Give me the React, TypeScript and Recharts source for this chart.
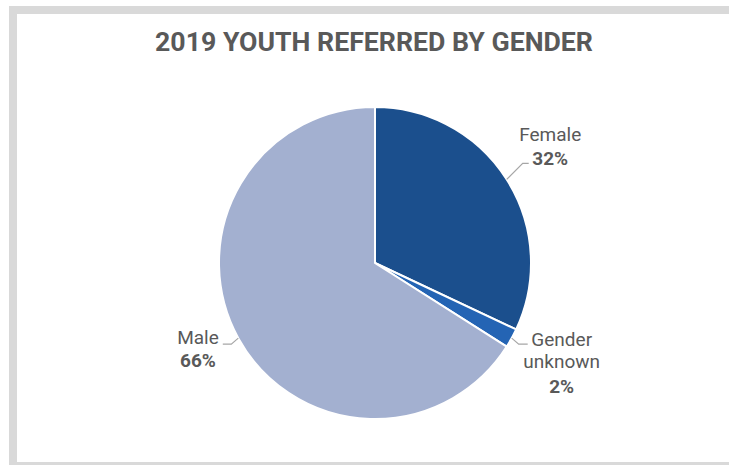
import { PieChart, Pie, Cell } from "recharts";

const genders = ["Female", "Gender unknown", "Male"];
const shares = [32, 2, 66];
const shareLabels = ["32%", "2%", "66%"];

const SLICE_COLORS = ["#1b4f8d", "#2464b4", "#a3b0d0"];
const TEXT = "#595959";
const LEADER = "#a6a6a6";

// leader line elbow / text placement, per slice
const LABEL_LAYOUT = [
  { elbow: [16, -16], run: 6, tx: 21.5, ty: [-22.3, 1.3], lines: ["Female"] },
  { elbow: [7, 6], run: 9, tx: 34, ty: [1.7, 24.3, 48.7], lines: ["Gender", "unknown"] },
  { elbow: [-7, 6], run: -8.5, tx: -24.8, ty: [0.3, 22.7], lines: ["Male"] },
];

const data = genders.map((g, i) => ({ name: g, value: shares[i], pct: shareLabels[i] }));

const RAD = Math.PI / 180;

function renderLabel(props: any) {
  const { cx, cy, midAngle, outerRadius, index } = props;
  const lay = LABEL_LAYOUT[index];
  const sx = cx + outerRadius * Math.cos(-midAngle * RAD);
  const sy = cy + outerRadius * Math.sin(-midAngle * RAD);
  const mx = sx + lay.elbow[0];
  const my = sy + lay.elbow[1];
  const ex = mx + lay.run;
  const ey = my;
  const tx = ex + lay.tx;
  return (
    <g>
      <polyline points={`${sx},${sy} ${mx},${my} ${ex},${ey}`} fill="none" stroke={LEADER} strokeWidth={1.2} />
      {lay.lines.map((l, k) => (
        <text key={k} x={tx} y={ey + lay.ty[k]} textAnchor="middle" fill={TEXT} fontSize={19} fontFamily="Roboto">
          {l}
        </text>
      ))}
      <text x={tx} y={ey + lay.ty[lay.lines.length]} textAnchor="middle" fill={TEXT} fontSize={19} fontWeight={700} fontFamily="Roboto">
        {data[index].pct}
      </text>
    </g>
  );
}

export default function App() {
  return (
    <div style={{ position: "absolute", left: 0, top: 0, width: 729, height: 465, overflow: "hidden", background: "#fff" }}>
      <div
        style={{
          position: "absolute", left: 9, top: 6, width: 760, height: 448,
          border: "8px solid #d9d9d9", background: "#fff",
        }}
      />
      <div
        style={{
          position: "absolute", left: 0, top: 29.2, width: 748, textAlign: "center",
          fontFamily: "Roboto", fontWeight: 700, fontSize: 26.7, lineHeight: "26.7px", color: TEXT,
        }}
      >
        2019 YOUTH REFERRED BY GENDER
      </div>
      <div style={{ position: "absolute", left: 0, top: 0 }}>
        <PieChart width={729} height={465} margin={{ top: 0, right: 0, bottom: 0, left: 0 }}>
          <Pie
            data={data}
            dataKey="value"
            nameKey="name"
            cx={375}
            cy={263}
            outerRadius={156}
            startAngle={90}
            endAngle={-270}
            stroke="#ffffff"
            strokeWidth={2}
            label={renderLabel}
            labelLine={false}
            isAnimationActive={false}
          >
            {data.map((d, i) => (
              <Cell key={d.name} fill={SLICE_COLORS[i]} />
            ))}
          </Pie>
        </PieChart>
      </div>
    </div>
  );
}
